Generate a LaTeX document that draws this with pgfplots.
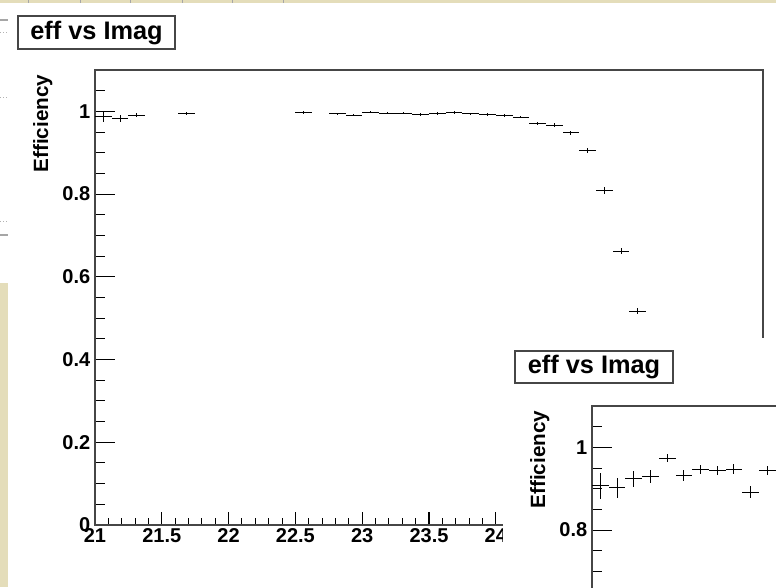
\documentclass[border=0pt]{standalone}
\usepackage{pgfplots}
\pgfplotsset{compat=1.18}
\usepackage{pgfplotstable}
\usepackage{fontspec}
\setmainfont{Liberation Sans}
\definecolor{beige}{RGB}{228,221,186}
\definecolor{frame}{RGB}{70,70,70}

\pgfplotstableread{
x y ex ey
21.0625 0.987 0.0625 0.012
21.1875 0.983 0.0625 0.008
21.3125 0.991 0.0625 0.005
21.6875 0.995 0.0625 0.004
22.5625 0.997 0.0625 0.003
22.8125 0.994 0.0625 0.003
22.9375 0.991 0.0625 0.003
23.0625 0.998 0.0625 0.003
23.1875 0.996 0.0625 0.003
23.3125 0.996 0.0625 0.003
23.4375 0.993 0.0625 0.003
23.5625 0.995 0.0625 0.003
23.6875 0.997 0.0625 0.003
23.8125 0.994 0.0625 0.003
23.9375 0.992 0.0625 0.003
24.0625 0.990 0.0625 0.003
24.1875 0.986 0.0625 0.003
24.3125 0.971 0.0625 0.004
24.4375 0.967 0.0625 0.004
24.5625 0.948 0.0625 0.005
24.6875 0.905 0.0625 0.006
24.8125 0.808 0.0625 0.008
24.9375 0.662 0.0625 0.008
25.0625 0.517 0.0625 0.008
}\maintable

\pgfplotstableread{
x y ex ey
21.0625 0.907 0.0625 0.032
21.1875 0.902 0.0625 0.024
21.3125 0.924 0.0625 0.020
21.4375 0.930 0.0625 0.015
21.5625 0.974 0.0625 0.010
21.6875 0.932 0.0625 0.013
21.8125 0.946 0.0625 0.011
21.9375 0.944 0.0625 0.011
22.0625 0.947 0.0625 0.012
22.1875 0.892 0.0625 0.014
22.3125 0.944 0.0625 0.010
}\insettable

\pgfplotsset{
  rootstyle/.style={
    scale only axis,
    width=501pt, height=341.25pt,
    anchor=north west,
    xmin=21, xmax=26, ymin=0, ymax=1.1,
    xtick={21,21.5,...,26},
    minor x tick num=4,
    ytick={0,0.2,0.4,0.6,0.8,1},
    minor ytick={0.05,0.1,0.15,0.25,0.3,0.35,0.45,0.5,0.55,0.65,0.7,0.75,0.85,0.9,0.95,1.05},
    tick align=inside,
    xtick pos=bottom, ytick pos=left,
    major tick length=10pt, minor tick length=5pt,
    ytick style={/pgfplots/major tick length=15pt,/pgfplots/minor tick length=7.5pt},
    tick style={line width=0.8pt, black},
    axis line style={line width=0.9pt, frame},
    /pgf/number format/assume math mode=true,
    ticklabel style={font=\bfseries\fontsize{15}{15}\selectfont},
    xticklabel style={yshift=1pt},
    axis background/.style={fill=white},
  },
}

\begin{document}
\begin{tikzpicture}[x=0.75pt,y=-0.75pt]
\useasboundingbox (0,0) rectangle (776,587);
\clip (0,0) rectangle (776,587);
% background slide
\fill[beige] (0,0) rectangle (776,587);
\fill[white] (0,3) rectangle (8,283);
\draw[gray!70, line width=0.8pt] (0,20) -- (8,20);
\draw[gray!70, line width=0.8pt] (0,235) -- (8,235);
\foreach \yy in {32,97,221} \draw[gray!60, dotted] (0,\yy) -- (8,\yy);
\foreach \xx in {28,80,130,182,232,283} \draw[gray!70] (\xx,0) -- (\xx,3);
% main canvas
\fill[white] (8,3) rectangle (776,587);
\draw[frame, line width=0.9pt, fill=white] (18,16) rectangle (175,49);
\node[font=\bfseries\fontsize{19}{19}\selectfont, anchor=center] at (96.5,32.5) {eff vs Imag};

\begin{axis}[rootstyle, at={(71.25pt,-52.5pt)}]
\addplot[draw=none, no markers,
  error bars/.cd, x dir=both, x explicit, y dir=both, y explicit,
  error mark=none, error bar style={draw=black, solid, line width=0.75pt}]
  table[x=x, y=y, x error=ex, y error=ey] {\maintable};
\end{axis}
\node[rotate=90, anchor=base east, font=\bfseries\fontsize{15.5}{15.5}\selectfont] at (48,70) {Efficiency};

% inset canvas
\fill[white] (503,338) rectangle (776,587);
\draw[frame, line width=0.9pt, fill=white] (515,351) rectangle (673,383);
\node[font=\bfseries\fontsize{19}{19}\selectfont, anchor=center] at (594,367) {eff vs Imag};
\begin{axis}[rootstyle, at={(444pt,-304.5pt)}]
\addplot[draw=none, no markers,
  error bars/.cd, x dir=both, x explicit, y dir=both, y explicit,
  error mark=none, error bar style={draw=black, solid, line width=0.75pt}]
  table[x=x, y=y, x error=ex, y error=ey] {\insettable};
\end{axis}
\node[rotate=90, anchor=base east, font=\bfseries\fontsize{15.5}{15.5}\selectfont] at (545,406) {Efficiency};
\end{tikzpicture}
\end{document}
